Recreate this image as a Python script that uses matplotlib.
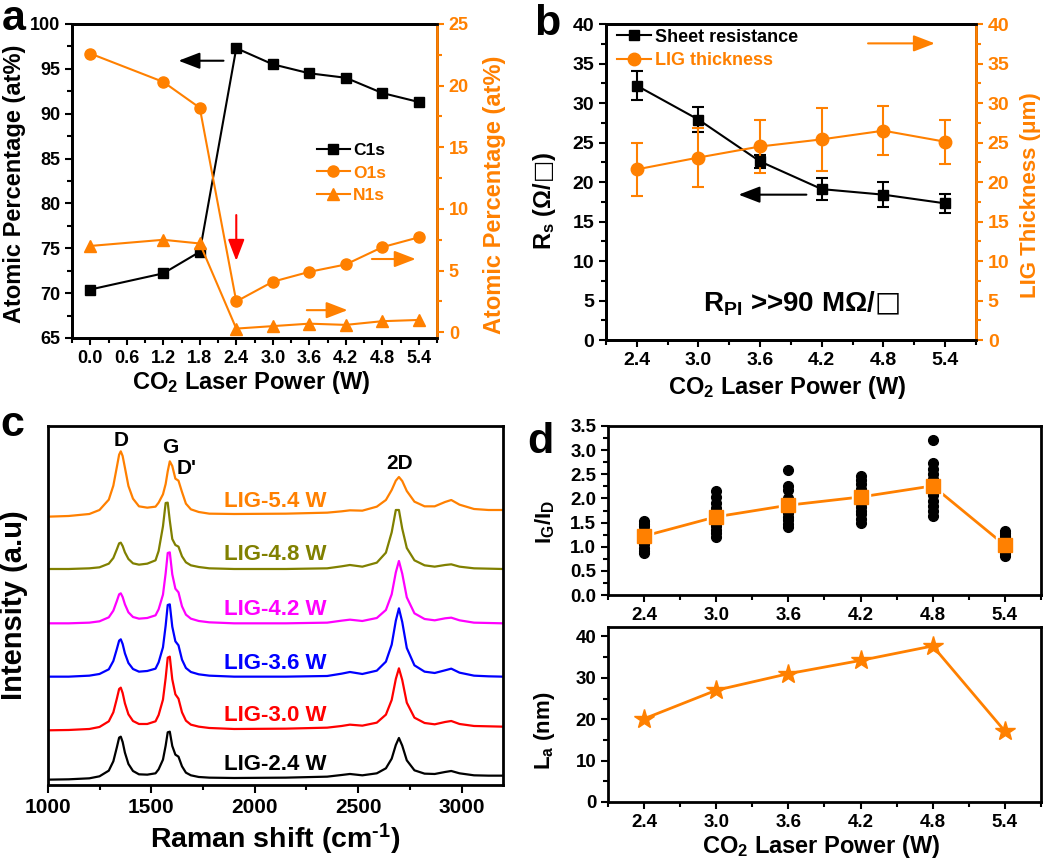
import matplotlib
matplotlib.use("Agg")
import matplotlib.pyplot as plt
from matplotlib.ticker import MultipleLocator, FormatStrFormatter
from matplotlib.lines import Line2D

# fonts: Arial-like bold everywhere, math in the same font
plt.rcParams['font.family'] = ['Liberation Sans', 'DejaVu Sans']
plt.rcParams['font.weight'] = 'bold'
plt.rcParams['axes.labelweight'] = 'bold'
plt.rcParams['mathtext.fontset'] = 'custom'
plt.rcParams['mathtext.rm'] = 'Liberation Sans:bold'
plt.rcParams['mathtext.it'] = 'Liberation Sans:bold'
plt.rcParams['mathtext.bf'] = 'Liberation Sans:bold'
plt.rcParams['mathtext.sf'] = 'DejaVu Sans'   # only used for the square sign
plt.rcParams['mathtext.default'] = 'rm'
plt.rcParams['axes.linewidth'] = 2

ORANGE = '#ff8000'
SQ = r'$\mathsf{□}$'

# ---- panel a : XPS atomic percentages ----
power_a = [0.0, 1.2, 1.8, 2.4, 3.0, 3.6, 4.2, 4.8, 5.4]
c1s = [70.4, 72.2, 74.6, 97.3, 95.5, 94.5, 94.0, 92.3, 91.3]
o1s = [22.6, 20.3, 18.2, 2.5, 4.1, 4.9, 5.5, 6.9, 7.7]
n1s = [7.0, 7.5, 7.2, 0.3, 0.5, 0.7, 0.6, 0.9, 1.0]

# ---- panel b : sheet resistance and thickness ----
power = [2.4, 3.0, 3.6, 4.2, 4.8, 5.4]
rs = [32.2, 27.9, 22.6, 19.1, 18.4, 17.3]
rs_err = [1.8, 1.6, 0.8, 1.4, 1.6, 1.2]
thick = [21.6, 23.1, 24.5, 25.4, 26.5, 25.1]
thick_err = [3.4, 3.7, 3.4, 4.0, 3.1, 2.8]

# ---- panel c : Raman spectra (offset, a.u.) ----
raman_shift = [1000, 1100, 1200, 1249, 1294, 1316, 1333, 1344, 1352, 1361,
               1372, 1389, 1411, 1440, 1480, 1520, 1535, 1556, 1569, 1579,
               1589, 1601, 1616, 1631, 1648, 1667, 1691, 1729, 1780, 1900,
               2150, 2350, 2420, 2460, 2520, 2590, 2634, 2662, 2682, 2697,
               2713, 2735, 2772, 2821, 2870, 2920, 2950, 2990, 3060, 3130, 3200]
lig_24 = [16, 17, 20, 26, 43, 71, 113, 142, 145, 129, 97, 63, 42, 32, 31, 35, 47, 76, 118, 158,
          160, 117, 91, 85, 56, 37, 29, 24, 22, 21, 22, 25, 30, 33, 29, 35, 50, 79, 120, 141,
          118, 74, 44, 34, 33, 39, 42, 35, 29, 28, 28]
lig_30 = [164, 165, 168, 174, 191, 218, 259, 288, 292, 276, 245, 212, 192, 183, 183, 191, 210, 256, 321, 382,
          385, 317, 272, 259, 218, 193, 181, 175, 171, 168, 169, 172, 177, 181, 178, 187, 211, 255, 318, 350,
          315, 247, 202, 186, 182, 189, 192, 183, 177, 176, 175]
lig_36 = [325, 325, 328, 333, 347, 372, 408, 433, 437, 423, 395, 366, 348, 340, 342, 349, 368, 413, 478, 540,
          542, 475, 431, 419, 376, 351, 339, 332, 328, 325, 325, 327, 334, 339, 333, 343, 370, 421, 493, 530,
          489, 411, 359, 340, 336, 344, 349, 337, 328, 326, 325]
lig_42 = [485, 485, 487, 491, 503, 523, 552, 572, 575, 564, 542, 518, 504, 499, 501, 509, 527, 571, 635, 696,
          698, 632, 589, 578, 536, 511, 499, 492, 488, 485, 485, 487, 493, 496, 492, 501, 525, 572, 638, 672,
          634, 563, 515, 498, 494, 500, 502, 494, 487, 486, 485]
lig_48 = [648, 648, 650, 653, 664, 681, 707, 725, 727, 717, 698, 678, 665, 661, 664, 674, 702, 776, 846, 847,
          793, 738, 720, 715, 686, 668, 659, 654, 650, 648, 648, 650, 656, 660, 655, 667, 697, 758, 825, 825,
          769, 711, 674, 659, 655, 660, 662, 655, 650, 649, 648]
lig_54 = [805, 807, 813, 825, 856, 898, 954, 991, 1001, 987, 952, 897, 859, 836, 832, 835, 847, 872, 903, 941,
          971, 957, 919, 913, 879, 844, 827, 819, 814, 813, 814, 817, 821, 824, 823, 835, 855, 885, 913, 924,
          912, 882, 850, 836, 836, 849, 855, 841, 828, 825, 825]
spectra = [lig_24, lig_30, lig_36, lig_42, lig_48, lig_54]
spec_names = ['LIG-2.4 W', 'LIG-3.0 W', 'LIG-3.6 W', 'LIG-4.2 W', 'LIG-4.8 W', 'LIG-5.4 W']
spec_colors = ['black', 'red', 'blue', 'magenta', '#808000', ORANGE]
spec_label_y = [60, 207, 365, 525, 690, 850]

# ---- panel d : IG/ID and La ----
ig_id_points = [[1.53, 1.48, 1.42, 1.35, 1.30, 1.25, 1.18, 1.10, 1.05, 0.98, 0.92, 0.86],
                [2.15, 2.02, 1.90, 1.80, 1.72, 1.65, 1.58, 1.50, 1.42, 1.35, 1.28, 1.21],
                [2.58, 2.25, 2.18, 2.00, 1.93, 1.85, 1.78, 1.70, 1.62, 1.55, 1.47, 1.40],
                [2.47, 2.38, 2.30, 2.20, 2.10, 2.00, 1.90, 1.82, 1.75, 1.67, 1.58, 1.50],
                [3.22, 2.73, 2.60, 2.50, 2.40, 2.30, 2.20, 2.08, 1.95, 1.85, 1.75, 1.63],
                [1.33, 1.28, 1.22, 1.15, 1.10, 1.05, 1.00, 0.95, 0.90, 0.85, 0.81]]
ig_id_mean = [1.22, 1.62, 1.86, 2.03, 2.26, 1.03]
la = [20.1, 27.0, 31.0, 34.2, 37.7, 17.1]


def style_ticks(ax, size):
    ax.tick_params(which='major', direction='out', length=5, width=1.5, labelsize=size)
    ax.tick_params(which='minor', direction='out', length=3.5, width=1.5)


fig = plt.figure(figsize=(10.5, 8.58), dpi=100)

# ================= a =================
axa = fig.add_axes([0.0686, 0.6061, 0.3476, 0.366])
axa.plot(power_a, c1s, '-s', color='k', ms=7, lw=1.5)
axa.set_xlim(-0.3, 5.7)
axa.set_ylim(65, 100)
axa.xaxis.set_major_locator(MultipleLocator(0.6))
axa.xaxis.set_minor_locator(MultipleLocator(0.3))
axa.xaxis.set_major_formatter(FormatStrFormatter('%.1f'))
axa.yaxis.set_major_locator(MultipleLocator(5))
axa.yaxis.set_minor_locator(MultipleLocator(2.5))
style_ticks(axa, 13)
axa.set_xlabel('CO$_2$ Laser Power (W)', fontsize=17)
axa.set_ylabel('Atomic Percentage (at%)', fontsize=17)
axa.xaxis.set_label_coords(0.49, -0.10)
axa.yaxis.set_label_coords(-0.125, 0.49)

twa = axa.twinx()
twa.plot(power_a, o1s, '-o', color=ORANGE, ms=8, lw=1.5)
twa.plot(power_a, n1s, '-^', color=ORANGE, ms=8, lw=1.5)
twa.set_ylim(-0.46, 25)
twa.yaxis.set_major_locator(MultipleLocator(5))
twa.yaxis.set_minor_locator(MultipleLocator(2.5))
style_ticks(twa, 13)
twa.tick_params(axis='y', which='both', colors=ORANGE)
twa.spines['right'].set_color(ORANGE)
twa.set_ylabel('Atomic Percentage (at%)', fontsize=17, color=ORANGE)
twa.yaxis.set_label_coords(1.125, 0.455)

hand_a = [Line2D([], [], color='k', marker='s', ms=7, lw=1.5),
          Line2D([], [], color=ORANGE, marker='o', ms=8, lw=1.5),
          Line2D([], [], color=ORANGE, marker='^', ms=8, lw=1.5)]
leg = twa.legend(hand_a, ['C1s', 'O1s', 'N1s'], loc='upper left', bbox_to_anchor=(0.67, 0.62),
                 frameon=False, fontsize=12.5, handlelength=1.9, handletextpad=0.2,
                 labelspacing=0.4, borderpad=0, borderaxespad=0)
for t, c in zip(leg.get_texts(), ['k', ORANGE, ORANGE]):
    t.set_color(c)

# arrows pointing to the axes
arr = dict(arrowstyle='-|>,head_length=0.65,head_width=0.25', lw=1.5, mutation_scale=20,
           shrinkA=0, shrinkB=0)
axa.annotate('', xy=(1.45, 95.9), xytext=(2.19, 95.9), arrowprops=dict(arr, color='k'))
axa.annotate('', xy=(5.35, 73.8), xytext=(4.63, 73.8), arrowprops=dict(arr, color=ORANGE))
axa.annotate('', xy=(4.23, 68.1), xytext=(3.56, 68.1), arrowprops=dict(arr, color=ORANGE))
axa.annotate('', xy=(2.4, 73.6), xytext=(2.4, 78.7), arrowprops=dict(arr, color='red'))

# ================= b =================
axb = fig.add_axes([0.5771, 0.6037, 0.3524, 0.3683])
axb.errorbar(power, rs, yerr=rs_err, fmt='-s', color='k', ms=7.5, lw=1.5,
             capsize=4, elinewidth=1.5, capthick=1.5)
axb.errorbar(power, thick, yerr=thick_err, fmt='-o', color=ORANGE, ms=9, lw=1.5,
             capsize=4, elinewidth=1.5, capthick=1.5)
axb.set_xlim(2.1, 5.7)
axb.set_ylim(0, 40)
axb.xaxis.set_major_locator(MultipleLocator(0.6))
axb.xaxis.set_minor_locator(MultipleLocator(0.3))
axb.xaxis.set_major_formatter(FormatStrFormatter('%.1f'))
axb.yaxis.set_major_locator(MultipleLocator(5))
axb.yaxis.set_minor_locator(MultipleLocator(2.5))
style_ticks(axb, 14)
axb.set_xlabel('CO$_2$ Laser Power (W)', fontsize=17)
axb.set_ylabel('R$_s$ (Ω/' + SQ + ')', fontsize=17)
axb.xaxis.set_label_coords(0.49, -0.108)
axb.yaxis.set_label_coords(-0.13, 0.44)

twb = axb.twinx()
twb.set_ylim(0, 40)
twb.yaxis.set_major_locator(MultipleLocator(5))
twb.yaxis.set_minor_locator(MultipleLocator(2.5))
style_ticks(twb, 14)
twb.tick_params(axis='y', which='both', colors=ORANGE)
twb.spines['right'].set_color(ORANGE)
twb.set_ylabel('LIG Thickness (μm)', fontsize=16, color=ORANGE)
twb.yaxis.set_label_coords(1.12, 0.46)

hand_b = [Line2D([], [], color='k', marker='s', ms=7.5, lw=1.5),
          Line2D([], [], color=ORANGE, marker='o', ms=9, lw=1.5)]
leg = twb.legend(hand_b, ['Sheet resistance', 'LIG thickness'], loc='upper left',
                 bbox_to_anchor=(0.03, 0.985), frameon=False, fontsize=13, handlelength=1.9,
                 handletextpad=0.2, labelspacing=0.35, borderpad=0, borderaxespad=0)
for t, c in zip(leg.get_texts(), ['k', ORANGE]):
    t.set_color(c)

axb.annotate('', xy=(5.3, 37.55), xytext=(4.65, 37.55), arrowprops=dict(arr, color=ORANGE))
axb.annotate('', xy=(3.39, 18.4), xytext=(4.05, 18.4), arrowprops=dict(arr, color='k'))
axb.text(4.0, 4.6, 'R$_{PI}$ >>90 MΩ/' + SQ, ha='center', va='center', fontsize=20)

# ================= c =================
axc = fig.add_axes([0.0457, 0.0851, 0.4333, 0.4184])
for y, c in zip(spectra, spec_colors):
    axc.plot(raman_shift, y, color=c, lw=1.6)
for name, c, yl in zip(spec_names, spec_colors, spec_label_y):
    axc.text(1850, yl, name, color=c, fontsize=16, va='center', ha='left')
axc.text(1354, 1033, 'D', fontsize=15, ha='center', va='center')
axc.text(1590, 1013, 'G', fontsize=15, ha='center', va='center')
axc.text(1672, 950, "D'", fontsize=15, ha='center', va='center')
axc.text(2700, 965, '2D', fontsize=15, ha='center', va='center')
axc.set_xlim(1000, 3200)
axc.set_ylim(0, 1077)
axc.set_yticks([])
axc.xaxis.set_major_locator(MultipleLocator(500))
axc.xaxis.set_minor_locator(MultipleLocator(250))
style_ticks(axc, 15)
axc.tick_params(which='major', length=6)
axc.set_xlabel('Raman shift (cm$^{‐1}$)', fontsize=20.5)
axc.set_ylabel('Intensity (a.u)', fontsize=21)
axc.xaxis.set_label_coords(0.5, -0.102)
axc.yaxis.set_label_coords(-0.043, 0.5)

# ================= d =================
axd1 = fig.add_axes([0.579, 0.3065, 0.4124, 0.197])
axd1.plot(power, ig_id_mean, '-', color=ORANGE, lw=2, zorder=1)
axd1.plot(power, ig_id_mean, 's', color='white', ms=13, zorder=2)
for p, pts in zip(power, ig_id_points):
    axd1.plot([p] * len(pts), pts, 'o', color='k', ms=7, zorder=3)
axd1.plot(power, ig_id_mean, 's', color=ORANGE, ms=9.5, zorder=4)
axd1.set_xlim(2.1, 5.7)
axd1.set_ylim(0, 3.5)
axd1.xaxis.set_major_locator(MultipleLocator(0.6))
axd1.xaxis.set_minor_locator(MultipleLocator(0.3))
axd1.xaxis.set_major_formatter(FormatStrFormatter('%.1f'))
axd1.yaxis.set_major_locator(MultipleLocator(0.5))
axd1.yaxis.set_minor_locator(MultipleLocator(0.25))
axd1.yaxis.set_major_formatter(FormatStrFormatter('%.1f'))
style_ticks(axd1, 13.5)
axd1.set_ylabel('I$_G$/I$_D$', fontsize=16)
axd1.yaxis.set_label_coords(-0.118, 0.43)

axd2 = fig.add_axes([0.579, 0.0653, 0.4124, 0.204])
axd2.plot(power, la, '-*', color=ORANGE, ms=15, lw=2)
axd2.set_xlim(2.1, 5.7)
axd2.set_ylim(0, 42.3)
axd2.xaxis.set_major_locator(MultipleLocator(0.6))
axd2.xaxis.set_minor_locator(MultipleLocator(0.3))
axd2.xaxis.set_major_formatter(FormatStrFormatter('%.1f'))
axd2.yaxis.set_major_locator(MultipleLocator(10))
axd2.yaxis.set_minor_locator(MultipleLocator(5))
style_ticks(axd2, 13.5)
axd2.set_ylabel('L$_a$ (nm)', fontsize=16)
axd2.set_xlabel('CO$_2$ Laser Power (W)', fontsize=17)
axd2.yaxis.set_label_coords(-0.118, 0.406)
axd2.xaxis.set_label_coords(0.492, -0.175)

# panel letters
for lab, x, y in [('a', 0.002, 0.965), ('b', 0.509, 0.959), ('c', 0.0, 0.492), ('d', 0.502, 0.472)]:
    fig.text(x, y, lab, fontsize=31, fontweight='bold', va='baseline', ha='left')

fig.savefig('out.png', dpi=100)
